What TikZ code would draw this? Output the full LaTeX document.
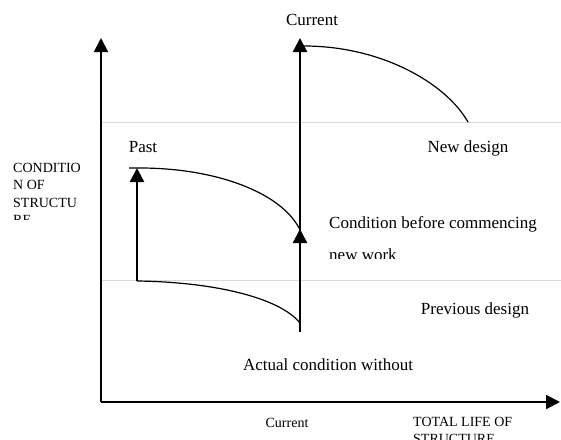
\documentclass[tikz,border=0pt]{standalone}
\usepackage{fontspec}
\setmainfont{Liberation Serif}
\usetikzlibrary{arrows.meta, positioning}

\begin{document}
\begin{tikzpicture}[x=1pt, y=-1pt, >={Triangle[length=14pt,width=14pt]}]
		\tikzset{
			axis/.style  = {draw, line width=2pt},
			bar/.style   = {draw, line width=2.4pt},
			curve/.style = {draw, line width=1.2pt},
			level/.style = {draw, black!15, line width=0.8pt},
			lbl/.style   = {font=\fontsize{17}{20}\selectfont, inner sep=0pt},
			axlbl/.style = {font=\fontsize{14}{17.5}\selectfont, inner sep=0pt, align=left},
		}
		\useasboundingbox (0,0) rectangle (561,439);

		%coordinates
		\coordinate (origin) at (101,402);
		\coordinate (ytop)   at (101,38);
		\coordinate (xend)   at (560,402);
		\coordinate (hiL)    at (101,122);  %% upper level line
		\coordinate (hiR)    at (561,122);
		\coordinate (loL)    at (101,280);  %% lower level line
		\coordinate (loR)    at (561,280);
		\coordinate (pastbot) at (137,281);
		\coordinate (pasttop) at (137,168);
		\coordinate (curbot)  at (300,332);
		\coordinate (curmid)  at (300,229);
		\coordinate (curtop)  at (300,38);
		\coordinate (newend)  at (468,122);
		\coordinate (oldend)  at (299,228);
		\coordinate (actend)  at (300,323);

		%level lines
		\path[level] (hiL) -- (hiR);
		\path[level] (loL) -- (loR);

		%axes
		\path[axis,->] (origin) -- (ytop);
		\path[axis,->] (origin) -- (xend);

		%bars
		\path[bar,->] (pastbot) -- (pasttop);
		\path[bar,->] (curbot) -- (curtop);
		\path[bar,->] (curbot) -- (curmid);

		%decay curves
		\path[curve] ([xshift=-8pt]pasttop) -- ([xshift=3pt]pasttop) .. controls (215,168) and (280,192) .. (oldend);
		\path[curve] (pastbot) .. controls (215,282) and (280,298) .. (actend);
		\path[curve] ([xshift=4pt]curtop |- 0,46) .. controls (380,46) and (445,82) .. (newend);

		%labels
		\node (past)   [lbl] at (143,147) {Past};
		\node (curt)   [lbl] at (312,20)  {Current};
		\node (newd)   [lbl] at (468,148) {New design};
		\node (before) [lbl, anchor=west] at (329,224) {Condition before commencing};
		\begin{scope}
			\clip (320,240) rectangle (561,258);
			\node (newwork) [lbl, anchor=west] at (329,255) {new work};
		\end{scope}
		\node (prevd)  [lbl] at (475,310) {Previous design};
		\node (actual) [lbl] at (328,365) {Actual condition without};
		\node (curx)   [axlbl] at (287,423) {Current};
		\node (xlbl)   [axlbl, anchor=north west] at (413,417) {TOTAL LIFE OF\\STRUCTURE};
		\begin{scope}
			\clip (0,150) rectangle (99,219);
			\node (ylbl) [axlbl, anchor=north west] at (13,163) {CONDITIO\\N OF\\STRUCTU\\RE};
		\end{scope}

	\end{tikzpicture}
\end{document}
